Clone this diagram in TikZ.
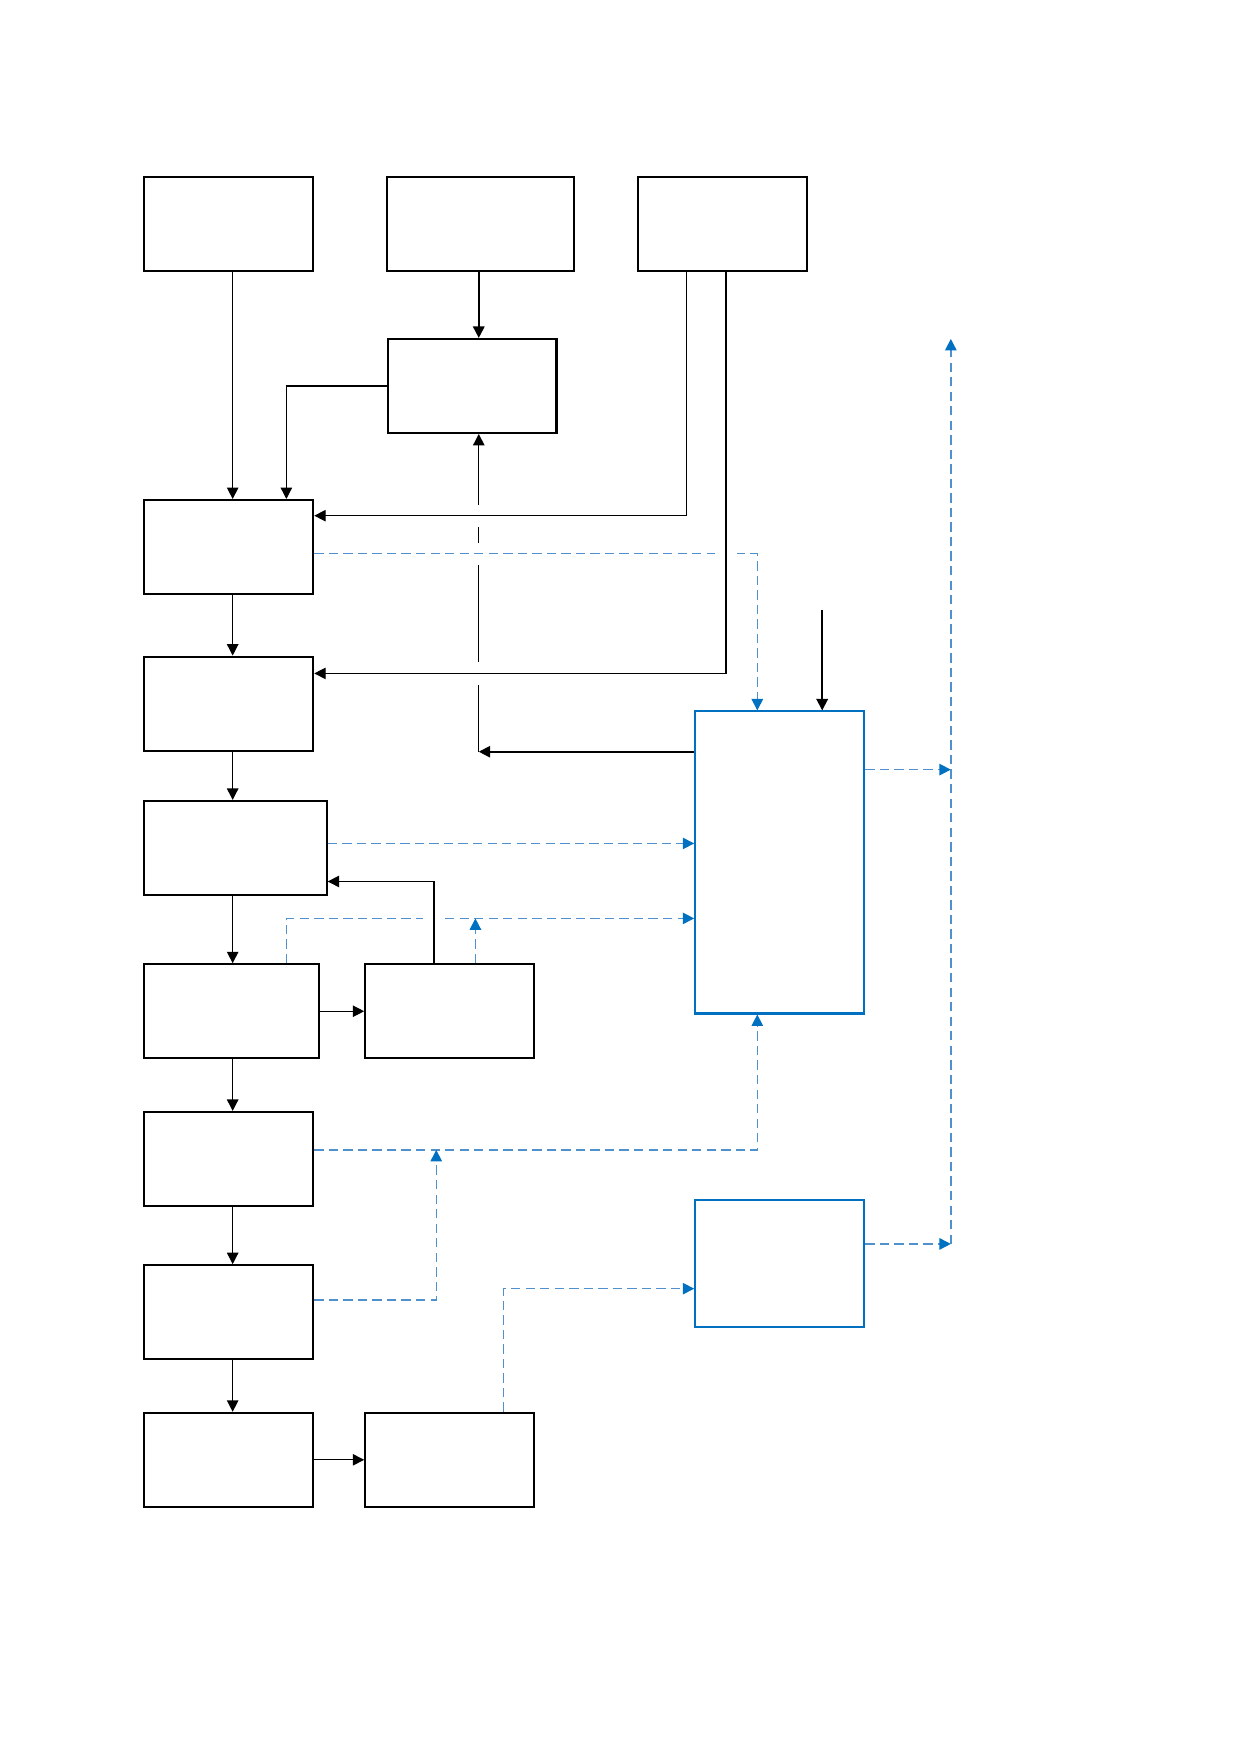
\documentclass[tikz,border=0pt]{standalone}
\usepackage{tikz}
\usetikzlibrary{arrows.meta}

\definecolor{boxblue}{RGB}{0,112,192}
\definecolor{dashblue}{RGB}{80,145,205}
\newcommand\unitpx{0.018935cm}

\begin{document}
\begin{tikzpicture}[x=\unitpx,y=-\unitpx,>={Triangle[length=5.5pt,width=5.5pt]},
    box/.style={draw,line width=1pt,minimum width=151*\unitpx,minimum height=84*\unitpx,inner sep=0pt},
    bluebox/.style={box,draw=boxblue},
    flow/.style={->,line width=0.6pt},
    data/.style={draw=dashblue,line width=0.7pt,dash pattern=on 4.5pt off 2.5pt,
        -{Triangle[length=5.5pt,width=5.5pt,color=boxblue]}},
    gap/.style={draw=white,line width=3pt}]
    \useasboundingbox (0,0) rectangle (1109,1568);

    \node[box] (a) at (204.5,200) {};
    \node[box,minimum width=167*\unitpx] (b) at (429.5,200) {};
    \node[box] (c) at (646,200) {};
    \node[box] (d) at (422,345) {};
    \node[box] (e) at (204.5,489) {};
    \node[box] (f) at (204.5,629) {};
    \node[box,minimum width=163*\unitpx] (g) at (210.5,758) {};
    \node[box,minimum width=156*\unitpx] (h) at (207,904) {};
    \node[box] (i) at (402,904) {};
    \node[box] (j) at (204.5,1036) {};
    \node[box] (k) at (204.5,1173) {};
    \node[box] (l) at (204.5,1305) {};
    \node[box] (m) at (402,1305) {};
    \node[bluebox,minimum height=270*\unitpx] (p) at (697,771) {};
    \node[bluebox,minimum height=113*\unitpx] (q) at (697,1129.5) {};

    \coordinate (turn) at (428,672);
    \coordinate (top) at (735,545);
    \coordinate (bus) at (850,303);
    \coordinate (busend) at (850,1112);

    % feedback from p up to d, broken where lines cross it
    \draw[flow,line width=0.9pt] (p.west |- turn) -- (turn);
    \draw[flow] (turn) -- (turn |- d.south);
    \foreach \yy in {461,495,602}
        \draw[gap] (428,\yy-10) -- (428,\yy+10);

    % dashed links
    \draw[data] (e.east |- 0,495) -| (p.north -| 677,0);
    \draw[data] (g.east |- 0,754) -- (p.west |- 0,754);
    \draw[data] (h.north -| 256,0) |- (p.west |- 0,821);
    \draw[data] (i.north -| 425,0) -- (425,821);
    \draw[data] (j.east |- 0,1028) -| (p.south -| 677,0);
    \draw[data] (k.east |- 0,1162) -| (390,1028);
    \draw[data] (m.north -| 450,0) |- (q.west |- 0,1152);
    \draw[data] (p.east |- 0,688) -- (bus |- 0,688);
    \draw[data] (q.east |- busend) -- (busend);
    \draw[data] (busend) -- (bus);
    \draw[gap] (639,495) -- (659,495);
    \draw[gap] (378,821) -- (398,821);

    % main chain
    \foreach \u/\v in {a/e,e/f,f/g,g/h,h/j,j/k,k/l}
        \draw[flow] (\u.south -| 208,0) -- (\v.north -| 208,0);
    \draw[flow] (h) -- (i);
    \draw[flow] (l) -- (m);
    \draw[flow,line width=0.9pt] (b.south -| 428,0) -- (d.north -| 428,0);
    \draw[flow] (d.west) -| (e.north -| 256,0);
    \draw[flow] (c.south -| 614,0) |- (e.east |- 0,461);
    \draw[flow] (c.south -| 649,0) |- (f.east |- 0,602);
    \draw[flow] (i.north -| 388,0) |- (g.east |- 0,788);
    \draw[flow,line width=0.9pt] (top) -- (p.north -| top);
\end{tikzpicture}
\end{document}
